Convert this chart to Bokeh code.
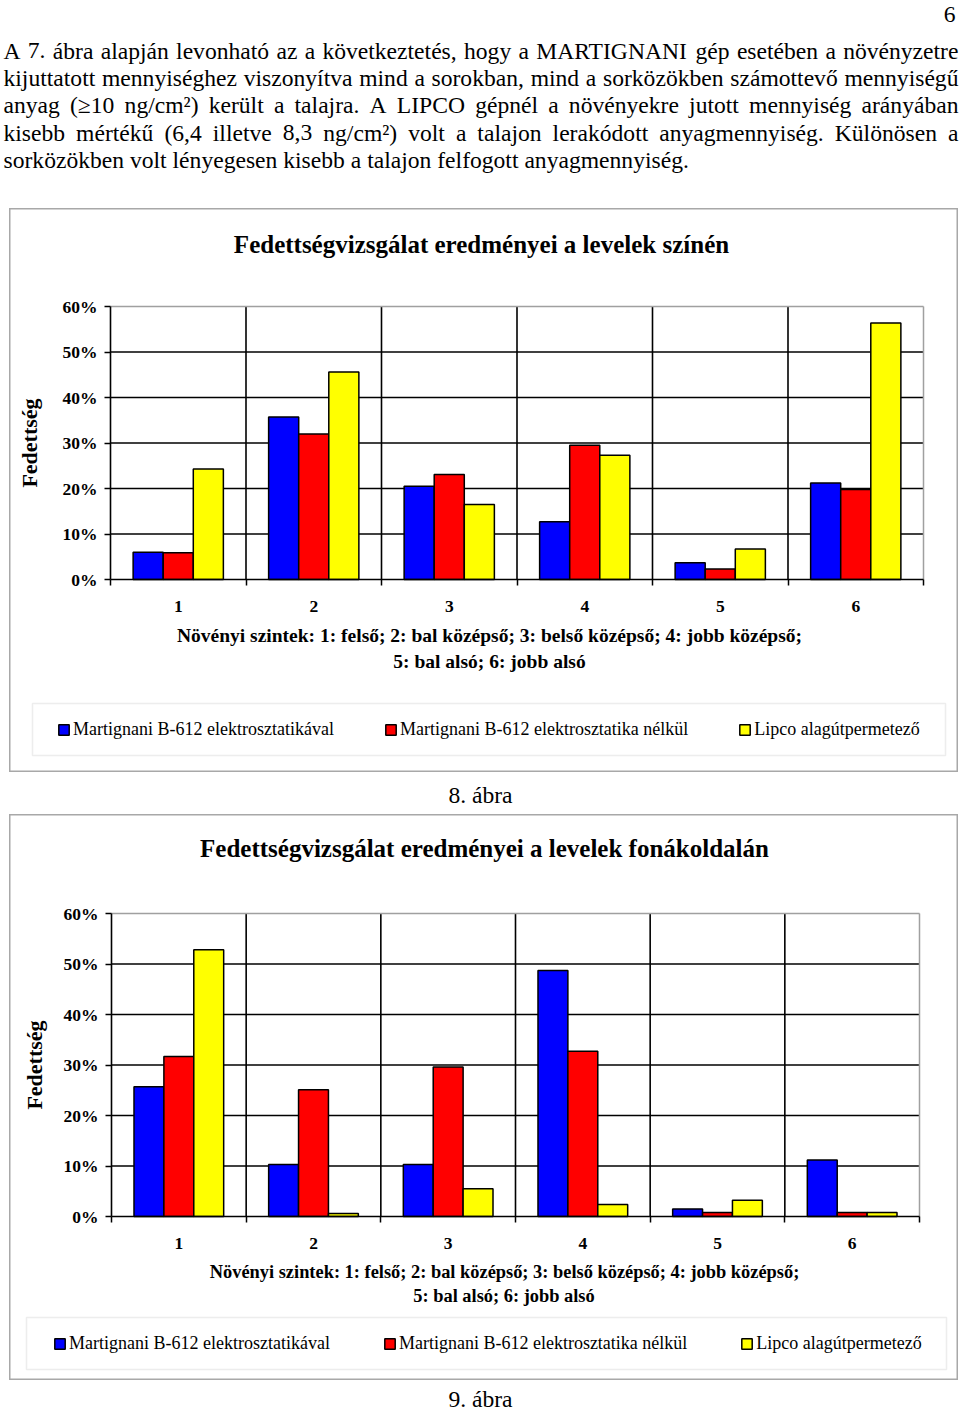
from bokeh.plotting import figure
from bokeh.models import (Range1d, FixedTicker, PrintfTickFormatter, Label, BoxAnnotation,
                          Legend, LegendItem, ColumnDataSource)
from bokeh.transform import dodge
from bokeh.layouts import column
from bokeh.core.properties import value
from bokeh.embed import file_html
from bokeh.resources import INLINE

SERIF = "Liberation Serif"

# ---------------- data ----------------
levels = ["1", "2", "3", "4", "5", "6"]
series_names = ["Martignani B-612 elektrosztatikával",
                "Martignani B-612 elektrosztatika nélkül",
                "Lipco alagútpermetező"]
series_colors = ["#0000ff", "#ff0000", "#ffff00"]

# Fig. 8 - leaf upper surface (%)
upper_elektro = [6.0, 35.7, 20.5, 12.7, 3.7, 21.2]
upper_nelkul = [5.9, 32.0, 23.1, 29.5, 2.3, 19.8]
upper_lipco = [24.3, 45.6, 16.5, 27.3, 6.7, 56.4]

# Fig. 9 - leaf lower surface (%)
lower_elektro = [25.7, 10.3, 10.3, 48.7, 1.5, 11.2]
lower_nelkul = [31.7, 25.1, 29.6, 32.7, 0.8, 0.8]
lower_lipco = [52.8, 0.6, 5.5, 2.4, 3.2, 0.8]

y_ticks = [0, 10, 20, 30, 40, 50, 60]

title8 = "Fedettségvizsgálat eredményei a levelek színén"
title9 = "Fedettségvizsgálat eredményei a levelek fonákoldalán"
caption_lines = ["Növényi szintek: 1: felső; 2: bal középső; 3: belső középső; 4: jobb középső;",
                 "5: bal alsó; 6: jobb alsó"]
y_label = "Fedettség"
fig_captions = ["8. ábra", "9. ábra"]

para_lines = [
    "A 7. ábra alapján levonható az a következtetés, hogy a MARTIGNANI gép esetében a növényzetre",
    "kijuttatott mennyiséghez viszonyítva mind a sorokban, mind a sorközökben számottevő mennyiségű",
    "anyag (≥10 ng/cm²) került a talajra. A LIPCO gépnél a növényekre jutott mennyiség arányában",
    "kisebb mértékű (6,4 illetve 8,3 ng/cm²) volt a talajon lerakódott anyagmennyiség. Különösen a",
    "sorközökben volt lényegesen kisebb a talajon felfogott anyagmennyiség.",
]
para_justify = [True, True, True, True, False]
page_number = "6"

# ---------------- text metrics (Times / Liberation Serif) ----------------
TW = {" ": 250, "!": 333, "(": 333, ")": 333, ",": 250, "-": 333, ".": 250, "/": 278,
      ":": 278, ";": 278, "≥": 549, "²": 300,
      "A": 722, "B": 667, "C": 667, "D": 722, "E": 611, "F": 556, "G": 722, "H": 722, "I": 333,
      "J": 389, "K": 722, "L": 611, "M": 889, "N": 722, "O": 722, "P": 556, "Q": 722, "R": 667,
      "S": 556, "T": 611, "U": 722, "V": 722, "W": 944, "X": 722, "Y": 722, "Z": 611,
      "a": 444, "b": 500, "c": 444, "d": 500, "e": 444, "f": 333, "g": 500, "h": 500, "i": 278,
      "j": 278, "k": 500, "l": 278, "m": 778, "n": 500, "o": 500, "p": 500, "q": 500, "r": 333,
      "s": 389, "t": 278, "u": 500, "v": 500, "w": 722, "x": 500, "y": 500, "z": 444,
      "á": 444, "é": 444, "í": 278, "ó": 500, "ö": 500, "ő": 500, "ú": 500, "ü": 500, "ű": 500}
for d in "0123456789":
    TW[d] = 500


def text_w(s, size):
    return sum(TW.get(c, 500) for c in s) * size / 1000.0


def no_align(p):
    if "frame_align" in type(p).properties():
        p.frame_align = False
    return p


def text_fig(height):
    p = figure(width=960, height=height, x_range=Range1d(0, 960), y_range=Range1d(height, 0),
               x_axis_type=None, y_axis_type=None, output_backend="svg", toolbar_location=None,
               min_border=0, outline_line_color=None, background_fill_color="white",
               border_fill_color="white")
    p.grid.visible = False
    return no_align(p)


# ---------------- paragraph ----------------
PARA_SIZE = 23.6
PARA_X0, PARA_X1 = 3.0, 958.0
tp = text_fig(208)
wx, wy, wt = [], [], []
for i, (line, just) in enumerate(zip(para_lines, para_justify)):
    y = 50.0 + 27.4 * i
    if just:
        words = line.split(" ")
        total = sum(text_w(w, PARA_SIZE) for w in words)
        gap = (PARA_X1 - PARA_X0 - total) / (len(words) - 1)
        x = PARA_X0
        for w in words:
            wx.append(x); wy.append(y); wt.append(w)
            x += text_w(w, PARA_SIZE) + gap
    else:
        wx.append(PARA_X0); wy.append(y); wt.append(line)

tp.text(x="x", y="y", text="t", source=ColumnDataSource(dict(x=wx, y=wy, t=wt)),
        text_font=value(SERIF), text_font_size=value(f"{PARA_SIZE}px"),
        text_baseline="middle", text_align="left", text_color="black")
tp.text(x=[955], y=[14], text=[page_number], text_font=value(SERIF),
        text_font_size=value(f"{PARA_SIZE}px"), text_baseline="middle",
        text_align="right", text_color="black")


def caption_fig(height, text, y):
    p = text_fig(height)
    p.text(x=[480], y=[y], text=[text], text_font=value(SERIF),
           text_font_size=value(f"{PARA_SIZE}px"), text_baseline="middle",
           text_align="center", text_color="black")
    return p


# ---------------- chart figures ----------------
def make_chart(g, s_blue, s_red, s_yellow, title):
    # g: pixel geometry of the chart box (canvas) and of the plot area inside it
    W, H = g["width"], g["height"]
    pl, pr, pt, pb = g["plot"]          # plot area edges in canvas pixels (from top-left)
    kx = 6.0 / (pr - pl)                # category units per pixel
    ky = 60.0 / (pb - pt)               # percent per pixel
    xr = Range1d(0.5 - pl * kx, 6.5 + (W - pr) * kx)
    yr = Range1d(0 - (H - pb) * ky, 60 + pt * ky)

    p = figure(width=W, height=H, x_range=xr, y_range=yr,
               output_backend="svg", toolbar_location=None, min_border=0,
               background_fill_color="white", border_fill_color="white",
               outline_line_color="#a8a8a8", outline_line_width=2,
               margin=(0, 0, 0, 9))
    no_align(p)
    p.grid.visible = False

    xs = [i + 1 for i in range(len(levels))]
    bounds_x = [x - 0.5 for x in xs] + [xs[-1] + 0.5]

    # grid lines (category boundaries, 10% steps) and the plot-area border
    p.segment(x0=bounds_x[1:-1], y0=0, x1=bounds_x[1:-1], y1=y_ticks[-1],
              line_color="black", line_width=1.6)
    p.segment(x0=bounds_x[0], y0=y_ticks[1:-1], x1=bounds_x[-1], y1=y_ticks[1:-1],
              line_color="black", line_width=1.6)
    p.segment(x0=[bounds_x[0], bounds_x[-1]], y0=[y_ticks[-1], 0],
              x1=[bounds_x[-1], bounds_x[-1]], y1=[y_ticks[-1], y_ticks[-1]],
              line_color="#a0a0a0", line_width=1.5)

    src = ColumnDataSource(dict(x=xs, s0=s_blue, s1=s_red, s2=s_yellow))
    bw = 0.222
    rends = []
    for k, off in enumerate([-bw, 0.0, bw]):
        r = p.vbar(x=dodge("x", off, range=p.x_range), top=f"s{k}", bottom=0, width=bw,
                   fill_color=series_colors[k], line_color="black", line_width=1.5, source=src)
        rends.append(r)

    # x axis drawn at y = 0
    xa = p.xaxis[0]
    xa.fixed_location = 0
    xa.bounds = (bounds_x[0], bounds_x[-1])
    xa.ticker = FixedTicker(ticks=xs, minor_ticks=bounds_x)
    xa.major_label_overrides = {x: lab for x, lab in zip(xs, levels)}
    xa.major_tick_line_color = None
    xa.major_tick_out = 0
    xa.major_tick_in = 0
    xa.minor_tick_line_color = "black"
    xa.minor_tick_line_width = 1.5
    xa.minor_tick_out = 6
    xa.minor_tick_in = 0
    xa.axis_line_color = "black"
    xa.axis_line_width = 1.6
    xa.major_label_standoff = 15
    xa.major_label_text_font = SERIF
    xa.major_label_text_font_size = "17.5px"
    xa.major_label_text_font_style = "bold"
    xa.major_label_text_color = "black"

    # y axis drawn at the left category boundary
    ya = p.yaxis[0]
    ya.fixed_location = bounds_x[0]
    ya.bounds = (y_ticks[0], y_ticks[-1])
    ya.ticker = FixedTicker(ticks=y_ticks)
    ya.formatter = PrintfTickFormatter(format="%d%%")
    ya.major_tick_out = 6
    ya.major_tick_in = 0
    ya.major_tick_line_color = "black"
    ya.major_tick_line_width = 1.5
    ya.minor_tick_line_color = None
    ya.axis_line_color = "black"
    ya.axis_line_width = 1.6
    ya.major_label_standoff = 7
    ya.major_label_text_font = SERIF
    ya.major_label_text_font_size = "17.5px"
    ya.major_label_text_font_style = "bold"
    ya.major_label_text_color = "black"
    ya.axis_label = y_label
    ya.axis_label_text_font = SERIF
    ya.axis_label_text_font_size = "22px"
    ya.axis_label_text_font_style = "bold"
    ya.axis_label_text_color = "black"
    ya.axis_label_standoff = g["ylab_standoff"]

    def lab(text, pos, size, bold=True):
        return Label(x=pos[0], y=H - pos[1], x_units="screen", y_units="screen", text=text,
                     text_align="center", text_baseline="middle", text_font=SERIF,
                     text_font_size=size, text_font_style="bold" if bold else "normal",
                     text_color="black")

    p.add_layout(lab(title, g["title"], "25px"))
    for line, pos in zip(caption_lines, g["caps"]):
        p.add_layout(lab(line, pos, g["cap_size"]))

    # legend box and legend
    bl, br, bt, bb = g["legbox"]
    p.add_layout(BoxAnnotation(left=bl, right=br, top=H - bt, bottom=H - bb,
                               left_units="screen", right_units="screen",
                               top_units="screen", bottom_units="screen",
                               fill_color=None, fill_alpha=0,
                               line_color="#c4c4c4", line_width=1.5))
    legend = Legend(items=[LegendItem(label=series_names[k], renderers=[rends[k]]) for k in range(3)],
                    location=g["legloc"], orientation="horizontal",
                    border_line_color=None, background_fill_alpha=0,
                    padding=16, spacing=g["legspacing"], margin=0,
                    glyph_width=13, glyph_height=13, label_standoff=3,
                    label_text_font=SERIF, label_text_font_size="18px",
                    label_text_color="black")
    p.add_layout(legend)
    return p


# pixel geometry (canvas coordinates, origin at the chart box's top-left corner)
geom8 = dict(width=949, height=564, plot=(101, 914, 98, 371), ylab_standoff=18,
             title=(472, 36), caps=((480, 427), (480, 453)), cap_size="19.5px",
             legbox=(23, 936, 495, 547), legloc=(48, 32), legspacing=50)
geom9 = dict(width=949, height=566, plot=(102, 910, 99, 402), ylab_standoff=14,
             title=(475, 34), caps=((495, 457), (494.5, 481)), cap_size="18.4px",
             legbox=(17, 937, 503, 555), legloc=(44, 26), legspacing=53)

p8 = make_chart(geom8, upper_elektro, upper_nelkul, upper_lipco, title8)
c8 = caption_fig(42, fig_captions[0], 22)
p9 = make_chart(geom9, lower_elektro, lower_nelkul, lower_lipco, title9)
c9 = caption_fig(30, fig_captions[1], 18)

page = column(tp, p8, c8, p9, c9, spacing=0)
open("out.html", "w").write(file_html(page, INLINE, "Fedettségvizsgálat"))
